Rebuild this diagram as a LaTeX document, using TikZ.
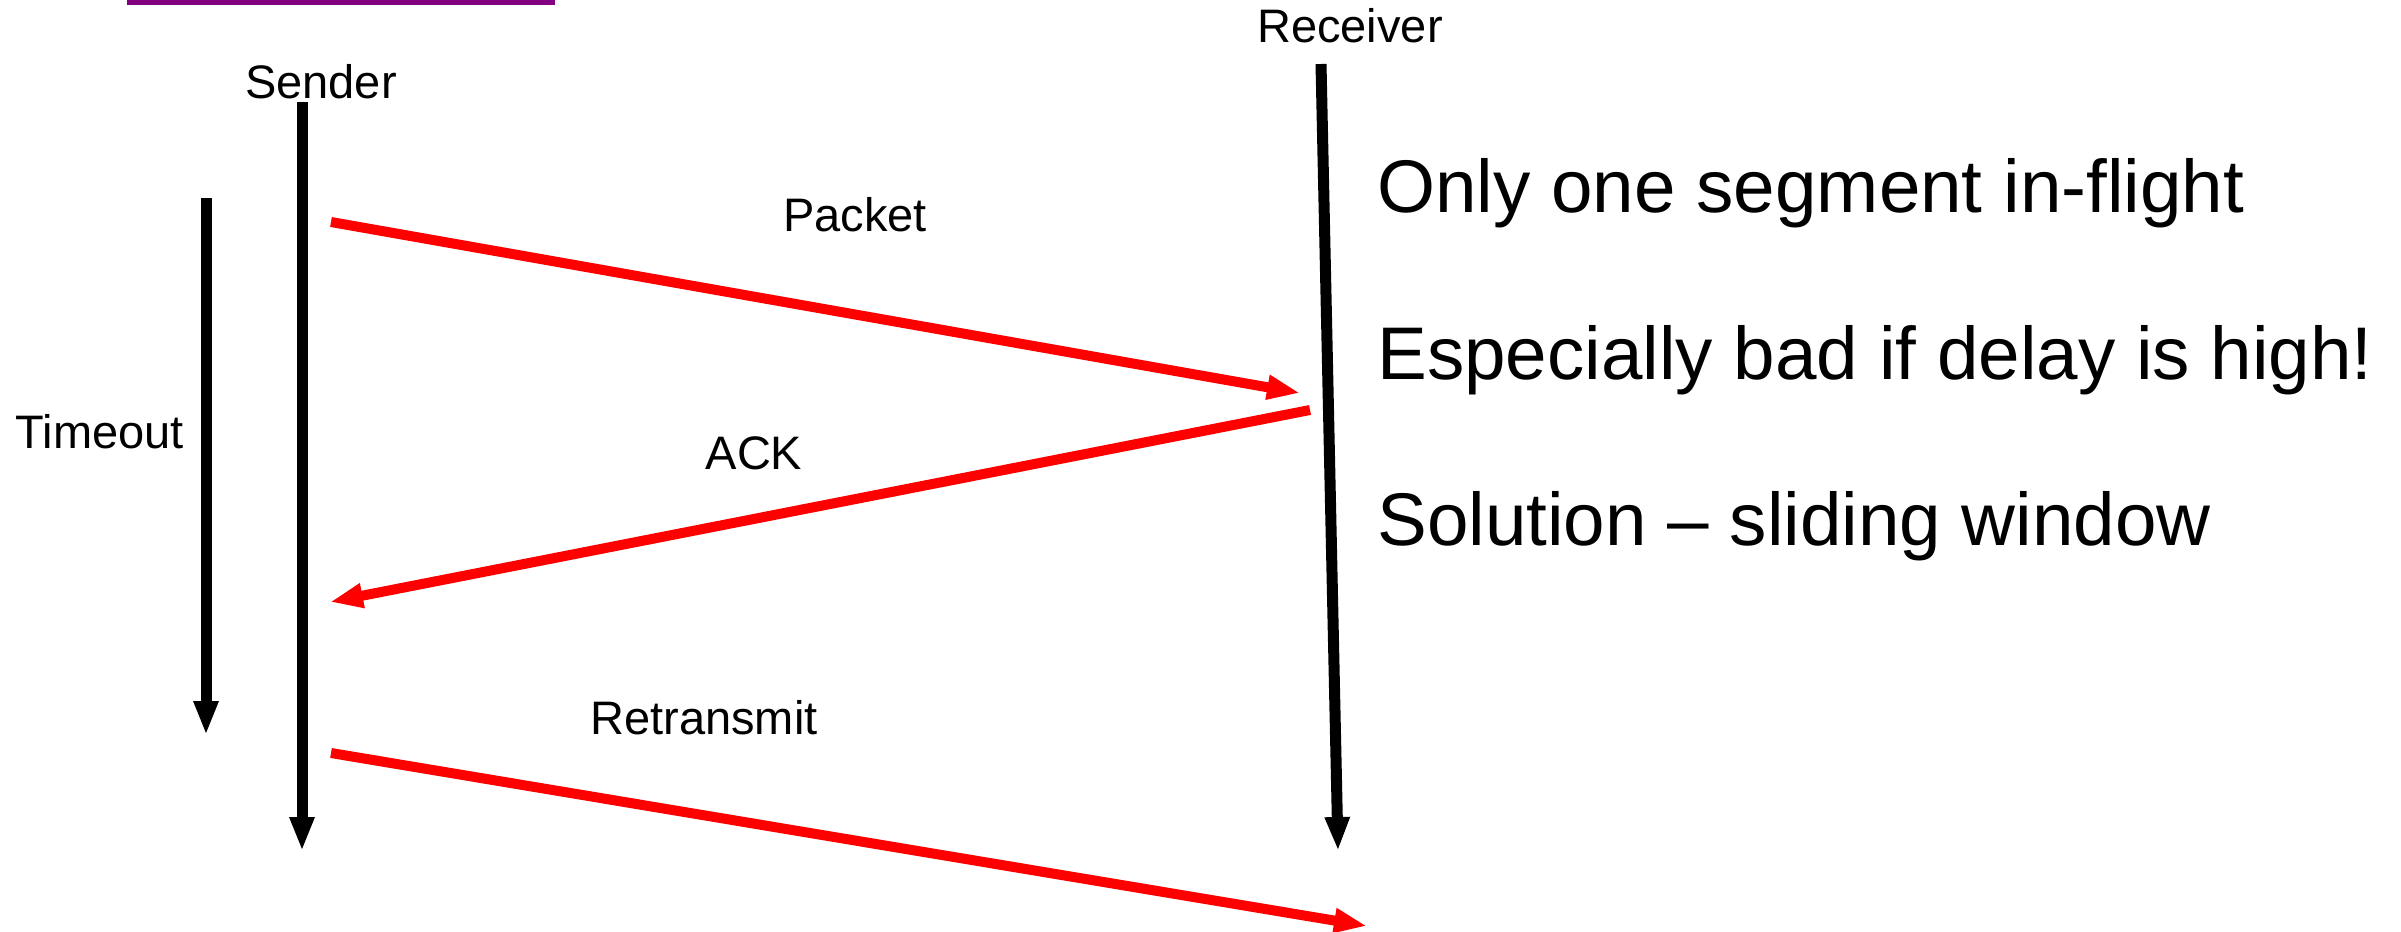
\documentclass[tikz,border=0pt]{standalone}
\usepackage{fontspec}
\setmainfont{Liberation Sans}
\usetikzlibrary{arrows.meta}
\tikzset{
  lifeline/.style={line width=5.5pt, black, -{Triangle[length=17pt,width=11.5pt]}},
  msg/.style={line width=5pt, red, -{Triangle[length=16.5pt,width=11.5pt]}},
  lbl/.style={inner sep=0pt, anchor=base, font=\fontsize{23.5pt}{28pt}\selectfont},
  big/.style={inner sep=0pt, anchor=base west, font=\fontsize{37.3pt}{44pt}\selectfont},
}
\begin{document}
\begin{tikzpicture}[x=0.5pt,y=-0.5pt]
\useasboundingbox (0,0) rectangle (2401,931);
% purple bar at top
\fill[fill={rgb,255:red,128;green,0;blue,128}] (127,0) rectangle (555,5.5);
% labels
\node[lbl] (sender) at (321,98) {Sender};
\node[lbl] (receiver) at (1350,43) {Receiver};
\node[lbl] (timeout) at (100,448) {Timeout};
\node[lbl] (packet) at (855,231) {Packet};
\node[lbl] (ack) at (754,469) {ACK};
\node[lbl] (retx) at (704,734) {Retransmit};
% coordinates
\coordinate (sTop) at (302,102);
\coordinate (sBot) at (302,851);
\coordinate (rTop) at (1321,64);
\coordinate (rBot) at (1338,851);
\coordinate (tTop) at (206,198);
\coordinate (tBot) at (206,735);
\coordinate (p1) at (331,222);
\coordinate (p2) at (1300,393);
\coordinate (a1) at (1310,410);
\coordinate (a2) at (330,602);
\coordinate (r1) at (331,753);
\coordinate (r2) at (1367,926);
% lifelines
\draw[lifeline] (sTop) -- (sBot);
\draw[lifeline] (rTop) -- (rBot);
\draw[lifeline] (tTop) -- (tBot);
% messages
\draw[msg] (p1) -- (p2);
\draw[msg] (a1) -- (a2);
\draw[msg] (r1) -- (r2);
% right-hand text
\node[big] (t1) at (1377,212) {Only one segment in-flight};
\node[big] (t2) at (1377,379) {Especially bad if delay is high!};
\node[big] (t3) at (1377,545) {Solution – sliding window};
\end{tikzpicture}
\end{document}
